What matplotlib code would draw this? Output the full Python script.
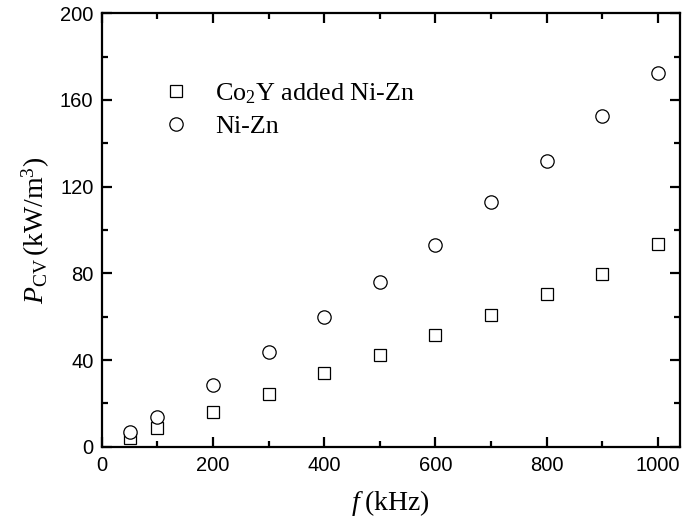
import numpy as np
import matplotlib
matplotlib.use("Agg")
import matplotlib.pyplot as plt
from matplotlib.ticker import MultipleLocator

freq_khz = [50, 100, 200, 300, 400, 500, 600, 700, 800, 900, 1000]
pcv_co2y = [4.0, 8.5, 16.0, 24.5, 34.0, 42.5, 51.5, 61.0, 70.5, 79.5, 93.5]
pcv_nizn = [6.8, 13.8, 28.5, 43.5, 60.0, 76.0, 93.0, 113.0, 132.0, 152.5, 172.3]

label_co2y = r"Co$_2$Y added Ni-Zn"
label_nizn = "Ni-Zn"

plt.rcParams["mathtext.fontset"] = "custom"
plt.rcParams["mathtext.rm"] = "Liberation Serif"
plt.rcParams["mathtext.it"] = "Liberation Serif:italic"
plt.rcParams["axes.linewidth"] = 1.6

fig = plt.figure(figsize=(6.85, 5.23), dpi=100)
ax = fig.add_axes([0.1485, 0.1459, 0.8442, 0.8287])

ax.plot(freq_khz, pcv_co2y, linestyle="none", marker="s", ms=8.6,
        mfc="white", mec="black", mew=0.9, label=label_co2y)
ax.plot(freq_khz, pcv_nizn, linestyle="none", marker="o", ms=9.6,
        mfc="white", mec="black", mew=0.9, label=label_nizn)

ax.set_xlim(0, 1040)
ax.set_ylim(0, 200)
ax.xaxis.set_major_locator(MultipleLocator(200))
ax.xaxis.set_minor_locator(MultipleLocator(100))
ax.yaxis.set_major_locator(MultipleLocator(40))
ax.yaxis.set_minor_locator(MultipleLocator(20))
ax.tick_params(which="both", direction="in", top=True, right=True, width=1.6)
ax.tick_params(which="major", length=7.5)
ax.tick_params(which="minor", length=4.5)
for lab in ax.get_xticklabels() + ax.get_yticklabels():
    lab.set_fontfamily("Liberation Sans")
    lab.set_fontsize(14.5)
ax.tick_params(axis="x", pad=7)
ax.tick_params(axis="y", pad=6)

ax.set_xlabel(r"$f\;$(kHz)", fontfamily="Liberation Serif", fontsize=20, labelpad=9)
ax.set_ylabel(r"$P_{\mathrm{CV}}\,$(kW/m$^3$)", fontfamily="Liberation Serif",
              fontsize=20, labelpad=6)

leg = ax.legend(loc="upper left", bbox_to_anchor=(0.083, 0.868), frameon=False,
                prop={"family": "Liberation Serif", "size": 18.8},
                handletextpad=0.9, labelspacing=0.36, borderaxespad=0,
                handlelength=1.2)

fig.savefig("out.png", dpi=100)
